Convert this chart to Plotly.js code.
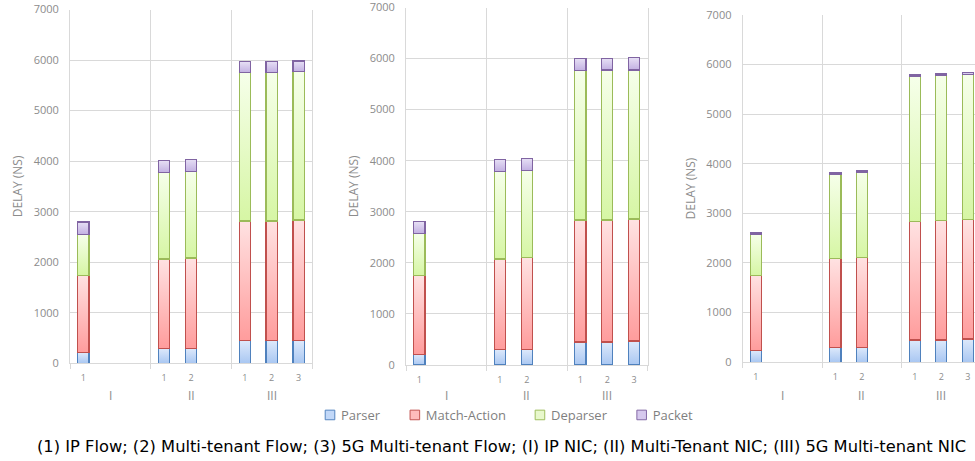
<!DOCTYPE html>
<html>
<head>
<meta charset="utf-8">
<script src="https://cdn.plot.ly/plotly-3.0.1.min.js"></script>
<style>
html,body{margin:0;padding:0;width:975px;height:461px;overflow:hidden;background:#fff;}
#chart{width:990px;height:461px;}
</style>
</head>
<body>
<div id="chart"></div>
<script>
// Categories
const groups = ['I', 'II', 'II', 'III', 'III', 'III'];
const flows = ['1', '1', '2', '1', '2', '3'];
const groupNames = ['I', 'II', 'III'];
const components = ['Parser', 'Match-Action', 'Deparser', 'Packet'];

// Panel 1 values (ns)
const parser1 = [210, 290, 290, 445, 445, 445];
const match1 = [1530, 1775, 1795, 2370, 2370, 2390];
const deparser1 = [805, 1705, 1705, 2935, 2935, 2935];
const packet1 = [250, 245, 250, 220, 225, 210];

// Panel 2 values (ns)
const parser2 = [208, 300, 300, 449, 449, 469];
const match2 = [1550, 1777, 1803, 2390, 2390, 2389];
const deparser2 = [820, 1712, 1706, 2923, 2936, 2917];
const packet2 = [228, 241, 240, 241, 228, 247];

// Panel 3 values (ns)
const parser3 = [235, 295, 295, 450, 450, 470];
const match3 = [1517, 1792, 1812, 2382, 2402, 2402];
const deparser3 = [832, 1705, 1725, 2920, 2920, 2920];
const packet3 = [33, 27, 27, 33, 33, 40];

const caption = '(1) IP Flow; (2) Multi-tenant Flow; (3) 5G Multi-tenant Flow; (I) IP NIC; (II) Multi-Tenant NIC; (III) 5G Multi-tenant NIC';

const panels = [
  [parser1, match1, deparser1, packet1],
  [parser2, match2, deparser2, packet2],
  [parser3, match3, deparser3, packet3]
];

const fillColors = ['#c2d8f8', '#ffbcbc', '#e8f8cc', '#d6c9ee'];
const lineColors = ['#4f81bd', '#c0504d', '#9bbb59', '#8064a2'];
const gradStops = [
  ['#dde9fb', '#a9c7f2'],
  ['#ffe2e2', '#ff9c9c'],
  ['#f6ffea', '#d6f6a4'],
  ['#e7e0f5', '#c2b0e2']
];

// slot positions: each group has 3 slots
const xpos = groups.map((g, i) => groupNames.indexOf(g) * 3 + (parseInt(flows[i]) - 1));

const data = [];
panels.forEach((vals, p) => {
  const ax = p === 0 ? '' : String(p + 1);
  vals.forEach((v, k) => {
    data.push({
      type: 'bar',
      name: components[k],
      x: xpos,
      y: v,
      xaxis: 'x' + ax,
      yaxis: 'y' + ax,
      width: 0.42,
      marker: {color: fillColors[k], line: {color: lineColors[k], width: 1.2}},
      showlegend: p === 0,
      legendgroup: components[k],
      hoverinfo: 'y+name'
    });
  });
});

const W = 990, H = 461;
const xDomains = [[70 / W, 312 / W], [406 / W, 647.5 / W], [742.7 / W, 981 / W]];
const yDomains = [[1 - 363.3 / H, 1 - 9.5 / H], [1 - 365 / H, 1 - 7.5 / H], [1 - 362.3 / H, 1 - 14.7 / H]];

const gray = '#8c8c8c';
const gridc = '#d9d9d9';
const fontFam = 'Open Sans, Noto Sans, sans-serif';

const layout = {
  width: W, height: H,
  margin: {l: 0, r: 0, t: 0, b: 0},
  paper_bgcolor: '#fff', plot_bgcolor: '#fff',
  barmode: 'stack',
  font: {family: fontFam, color: gray},
  showlegend: true,
  legend: {
    orientation: 'h', x: 500 / W, xanchor: 'center', y: 1 - 415 / H, yanchor: 'middle',
    font: {size: 13, color: '#7f7f7f', family: fontFam},
    itemwidth: 30, traceorder: 'normal', bgcolor: 'rgba(0,0,0,0)'
  },
  annotations: [],
  hovermode: 'closest'
};

panels.forEach((vals, p) => {
  const ax = p === 0 ? '' : String(p + 1);
  layout['xaxis' + ax] = {
    domain: xDomains[p],
    anchor: 'y' + ax,
    range: [-0.5, 8.5],
    tickmode: 'array',
    tickvals: xpos,
    ticktext: flows,
    ticks: '',
    showgrid: false,
    zeroline: false,
    showline: true,
    linecolor: gridc,
    linewidth: 1,
    tickfont: {size: 9, color: gray, family: fontFam},
    ticklabelstandoff: 6,
    minor: {
      tickmode: 'array',
      tickvals: [-0.5, 2.5, 5.5, 8.5],
      ticks: 'outside',
      ticklen: 5,
      tickcolor: gridc,
      showgrid: true,
      gridcolor: gridc,
      gridwidth: 1
    },
    fixedrange: true
  };
  layout['yaxis' + ax] = {
    domain: yDomains[p],
    anchor: 'x' + ax,
    range: [0, 7000],
    tickmode: 'linear',
    tick0: 0,
    dtick: 1000,
    ticks: '',
    showgrid: true,
    gridcolor: gridc,
    gridwidth: 1,
    zeroline: false,
    showline: true,
    mirror: true,
    linecolor: gridc,
    tickfont: {size: 11, color: gray, family: fontFam},
    ticklabelstandoff: 8,
    ticklabeloverflow: 'allow',
    title: {text: 'DELAY (NS)', font: {size: 12, color: gray, family: fontFam}, standoff: 8},
    fixedrange: true
  };
  groupNames.forEach((g, gi) => {
    layout.annotations.push({
      xref: 'x' + ax, yref: 'paper',
      x: gi * 3 + 1, y: 1 - 395 / H,
      text: g, showarrow: false,
      font: {size: 12, color: gray, family: fontFam},
      xanchor: 'center', yanchor: 'middle'
    });
  });
});

layout.annotations.push({
  xref: 'paper', yref: 'paper',
  x: 35 / W, y: 1 - 446 / H,
  xanchor: 'left', yanchor: 'middle',
  text: caption, showarrow: false,
  font: {size: 16.3, color: '#000', family: 'DejaVu Sans, sans-serif'}
});

Plotly.newPlot('chart', data, layout, {staticPlot: true}).then(gd => {
  const svg = gd.querySelector('svg.main-svg');
  let defs = svg.querySelector('defs');
  const ns = 'http://www.w3.org/2000/svg';
  components.forEach((c, k) => {
    const lg = document.createElementNS(ns, 'linearGradient');
    lg.setAttribute('id', 'grad' + k);
    lg.setAttribute('x1', '0'); lg.setAttribute('y1', '0');
    lg.setAttribute('x2', '0'); lg.setAttribute('y2', '1');
    const s1 = document.createElementNS(ns, 'stop');
    s1.setAttribute('offset', '0'); s1.setAttribute('stop-color', gradStops[k][0]);
    const s2 = document.createElementNS(ns, 'stop');
    s2.setAttribute('offset', '1'); s2.setAttribute('stop-color', gradStops[k][1]);
    lg.appendChild(s1); lg.appendChild(s2);
    defs.appendChild(lg);
  });
  gd.querySelectorAll('g.trace.bars').forEach(tr => {
    const cd = tr.__data__;
    if (!cd || !cd[0] || !cd[0].trace) return;
    const k = components.indexOf(cd[0].trace.name);
    if (k < 0) return;
    tr.querySelectorAll('path').forEach(pth => {
      pth.style.fill = 'url(#grad' + k + ')';
      pth.style.fillOpacity = 1;
    });
  });
  // bring legend swatches closer to their labels, and make them a bit smaller
  gd.querySelectorAll('.legend g.traces g.legendpoints').forEach(lp => {
    lp.setAttribute('transform', 'translate(13,0) scale(0.8)');
  });
});
</script>
</body>
</html>
